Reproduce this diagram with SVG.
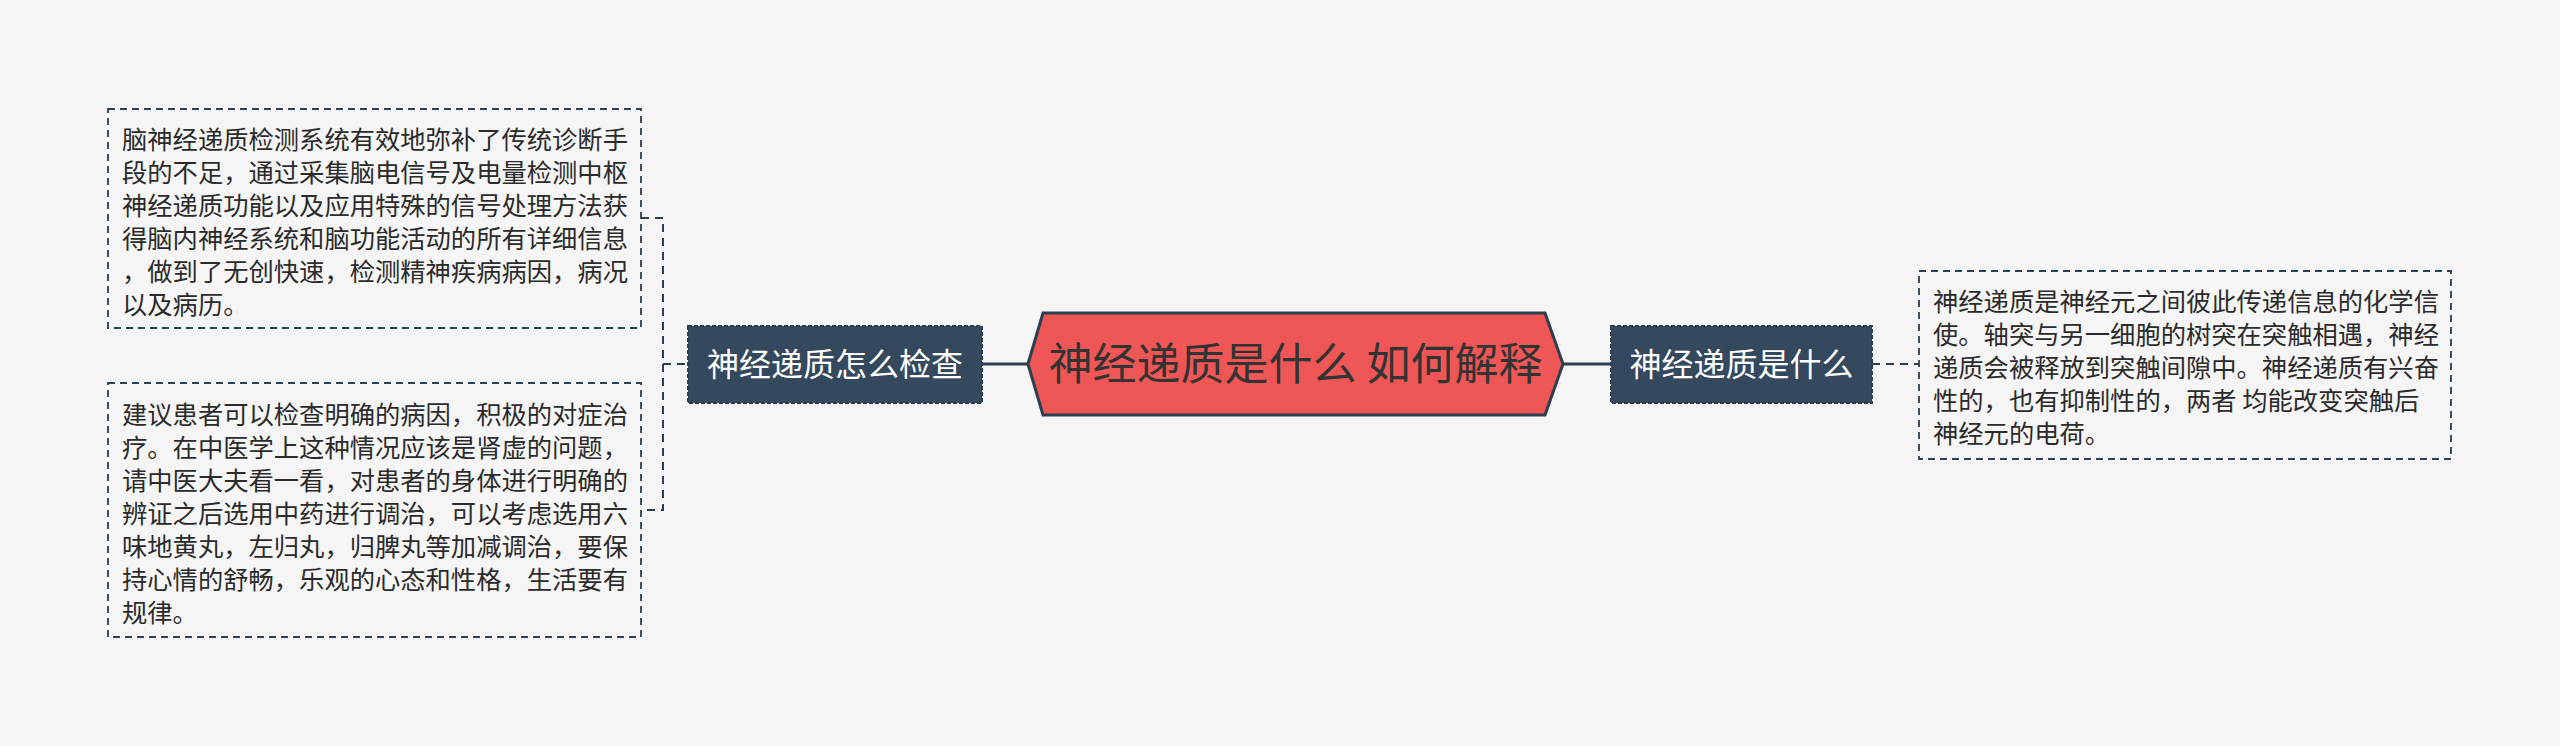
<svg xmlns="http://www.w3.org/2000/svg" width="2560" height="746" viewBox="0 0 2560 746">
<style>
.bg{fill:#f5f5f5}
.box{fill:#f5f5f5;stroke:#2c3e50;stroke-width:1.8;stroke-dasharray:7 5}
.txt{font-family:"Noto Sans CJK SC","Noto Sans",sans-serif;font-size:25.3px;fill:#2b2b2b}
.node{fill:#34495e;stroke:#2c3e50;stroke-width:2;stroke-dasharray:4 2}
.ntxt{font-family:"Noto Sans CJK SC","Noto Sans",sans-serif;font-size:32px;fill:#ffffff;text-anchor:middle}
.solid{fill:none;stroke:#2c3e50;stroke-width:3}
.dash{fill:none;stroke:#2c3e50;stroke-width:2;stroke-dasharray:8 6}
</style>
<rect class="bg" x="0" y="0" width="2560" height="746"/>
<g id="connectors">
<path class="dash" d="M641,218 H663 V510 H641"/>
<path class="dash" d="M663,364 H688"/>
<path class="solid" d="M982,364 H1028"/>
<path class="solid" d="M1563,364 H1611"/>
<path class="dash" d="M1872,364 H1919"/>
</g>
<g id="root">
<polygon points="1028,364 1043,313 1545,313 1563,364 1545,415 1043,415" fill="#ef5656" stroke="#2c3e50" stroke-width="3"/>
<text x="1295.5" y="380" font-family="'Noto Sans CJK SC','Noto Sans',sans-serif" font-size="44" fill="#333333" text-anchor="middle">神经递质是什么 如何解释</text>
</g>
<g id="node-check">
<rect class="node" x="688" y="326" width="294" height="77"/>
<text class="ntxt" x="835" y="376">神经递质怎么检查</text>
</g>
<g id="node-what">
<rect class="node" x="1611" y="326" width="261" height="77"/>
<text class="ntxt" x="1741.5" y="376">神经递质是什么</text>
</g>
<g id="leaf-detect">
<rect class="box" x="108" y="109" width="533" height="219"/>
<text class="txt" x="122" y="149">脑神经递质检测系统有效地弥补了传统诊断手</text>
<text class="txt" x="122" y="182">段的不足，通过采集脑电信号及电量检测中枢</text>
<text class="txt" x="122" y="215">神经递质功能以及应用特殊的信号处理方法获</text>
<text class="txt" x="122" y="248">得脑内神经系统和脑功能活动的所有详细信息</text>
<text class="txt" x="122" y="281">，做到了无创快速，检测精神疾病病因，病况</text>
<text class="txt" x="122" y="314">以及病历。</text>
</g>
<g id="leaf-treat">
<rect class="box" x="108" y="383" width="533" height="254"/>
<text class="txt" x="122" y="424">建议患者可以检查明确的病因，积极的对症治</text>
<text class="txt" x="122" y="457">疗。在中医学上这种情况应该是肾虚的问题，</text>
<text class="txt" x="122" y="490">请中医大夫看一看，对患者的身体进行明确的</text>
<text class="txt" x="122" y="523">辨证之后选用中药进行调治，可以考虑选用六</text>
<text class="txt" x="122" y="556">味地黄丸，左归丸，归脾丸等加减调治，要保</text>
<text class="txt" x="122" y="589">持心情的舒畅，乐观的心态和性格，生活要有</text>
<text class="txt" x="122" y="622">规律。</text>
</g>
<g id="leaf-define">
<rect class="box" x="1919" y="271" width="532" height="188"/>
<text class="txt" x="1933" y="311">神经递质是神经元之间彼此传递信息的化学信</text>
<text class="txt" x="1933" y="344">使。轴突与另一细胞的树突在突触相遇，神经</text>
<text class="txt" x="1933" y="377">递质会被释放到突触间隙中。神经递质有兴奋</text>
<text class="txt" x="1933" y="410">性的，也有抑制性的，两者 均能改变突触后</text>
<text class="txt" x="1933" y="443">神经元的电荷。</text>
</g>
</svg>
